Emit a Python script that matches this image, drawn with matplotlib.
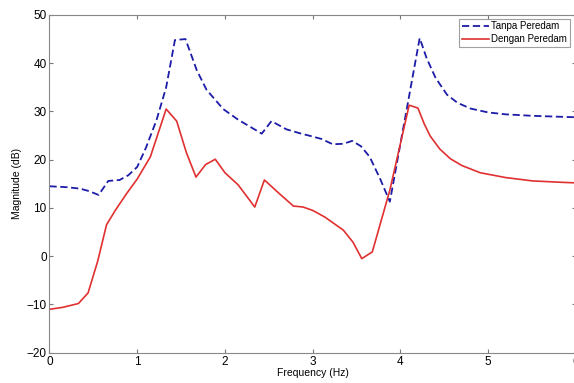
import matplotlib.pyplot as plt

# Tanpa Peredam (without damper)
freq_tanpa = [0, 0.2, 0.35, 0.45, 0.56, 0.67, 0.8, 0.9, 1.0, 1.1, 1.22, 1.33,
              1.43, 1.55, 1.62, 1.68, 1.79, 1.98, 2.15, 2.29, 2.42, 2.53, 2.7,
              2.85, 3.0, 3.1, 3.23, 3.35, 3.45, 3.55, 3.65, 3.77, 3.88, 4.22,
              4.3, 4.4, 4.53, 4.65, 4.8, 5.0, 5.2, 5.5, 5.82, 6.0]
mag_tanpa = [14.5, 14.3, 14.0, 13.5, 12.7, 15.6, 15.8, 16.8, 18.5, 22.5, 28.2, 35,
             44.8, 45, 41.5, 38.5, 34.5, 30.5, 28.3, 26.8, 25.4, 28.0, 26.3,
             25.5, 24.8, 24.3, 23.2, 23.3, 23.9, 22.8, 20.6, 16, 11.3, 45.2,
             41, 37, 33.5, 31.8, 30.6, 29.8, 29.4, 29.1, 28.9, 28.8]

# Dengan Peredam (with damper)
freq_dengan = [0, 0.15, 0.33, 0.44, 0.55, 0.65, 0.75, 0.88, 1.0, 1.15, 1.33, 1.45,
               1.56, 1.67, 1.78, 1.89, 2.0, 2.15, 2.34, 2.45, 2.6, 2.78, 2.89,
               3.0, 3.14, 3.35, 3.46, 3.56, 3.68, 3.88, 4.1, 4.2, 4.27, 4.34,
               4.45, 4.57, 4.7, 4.91, 5.2, 5.51, 5.86, 6.0]
mag_dengan = [-11, -10.6, -9.8, -7.6, -1, 6.5, 9.5, 13, 16, 20.6, 30.5, 28,
              21.5, 16.4, 19, 20.1, 17.3, 14.8, 10.2, 15.8, 13.3, 10.4, 10.2,
              9.5, 8.1, 5.4, 2.9, -0.5, 0.9, 13.7, 31.3, 30.7, 27.5, 24.9,
              22.2, 20.2, 18.8, 17.3, 16.3, 15.6, 15.3, 15.2]

plt.rcParams['font.family'] = ['Liberation Sans', 'DejaVu Sans']

fig = plt.figure(figsize=(5.74, 3.83), dpi=100)
ax = fig.add_axes([0.0862, 0.079, 0.917, 0.882])

ax.plot(freq_tanpa, mag_tanpa, '--', color='#1c1ca8', lw=1.3, dashes=(4, 2),
        label='Tanpa Peredam')
ax.plot(freq_dengan, mag_dengan, '-', color='#e03030', lw=1.2,
        label='Dengan Peredam')

ax.set_xlim(0, 6)
ax.set_ylim(-20, 50)
ax.set_xticks(range(0, 7))
ax.set_yticks(range(-20, 51, 10))
ax.tick_params(direction='in', top=True, right=True, labelsize=8.5,
               length=3, color='#777777', pad=2)
for s in ax.spines.values():
    s.set_color('#888888')
    s.set_linewidth(0.8)

ax.set_xlabel('Frequency (Hz)', fontsize=7.5, labelpad=0)
ax.set_ylabel('Magnitude (dB)', fontsize=7.5, labelpad=3)

leg = ax.legend(loc='upper right', bbox_to_anchor=(0.993, 0.995), fontsize=7,
                frameon=True, fancybox=False, handlelength=2.8,
                borderpad=0.3, labelspacing=0.25, handletextpad=0.2,
                borderaxespad=0.2)
leg.get_frame().set_edgecolor('#888888')
leg.get_frame().set_linewidth(0.8)

fig.savefig('out.png', dpi=100)
